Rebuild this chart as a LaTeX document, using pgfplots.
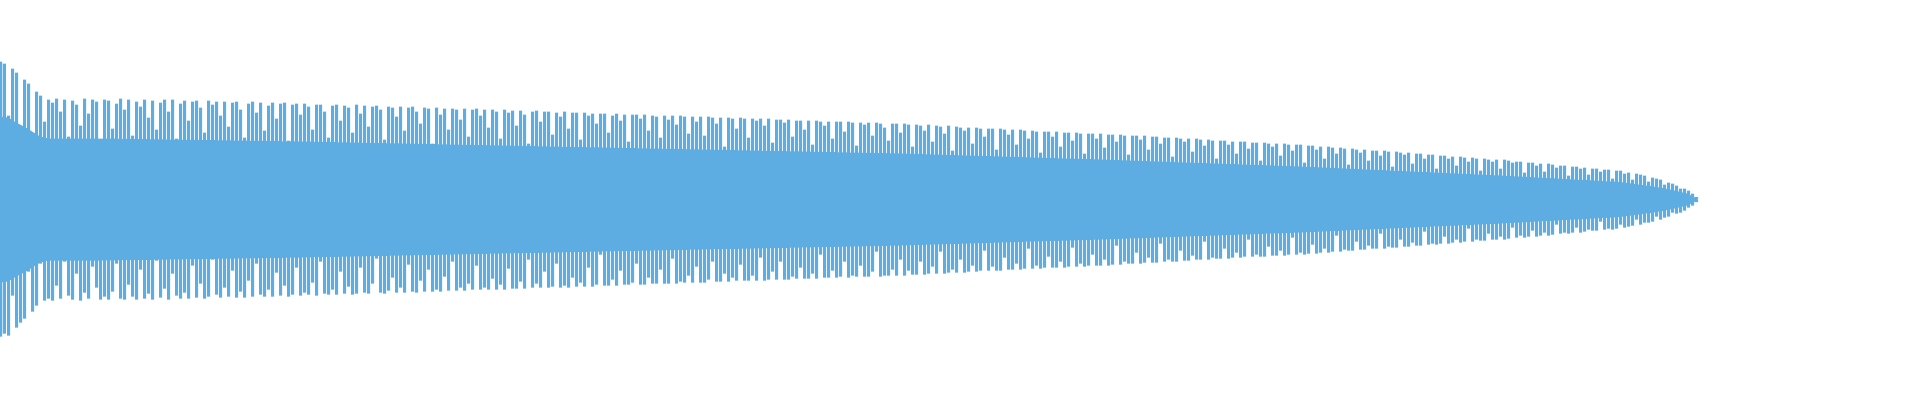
\documentclass[border=0pt]{standalone}
\usepackage{pgfplots}
\usepackage{pgfplotstable}
\pgfplotsset{compat=1.18}
\definecolor{wave}{RGB}{93,173,226}
\pgfplotstableread{
t b
138 -137
136 -134
84 -136
131 -96
127 -128
70 -123
120 -119
116 -72
66 -112
108 -106
104 -64
78 -101
100 -99
97 -101
101 -86
88 -99
100 -62
63 -96
99 -100
95 -74
74 -101
101 -93
86 -99
100 -67
98 -88
60 -100
100 -97
99 -100
71 -92
96 -64
101 -99
90 -100
100 -85
64 -97
98 -100
93 -70
100 -99
82 -94
99 -100
70 -61
97 -98
100 -89
88 -100
100 -74
61 -96
96 -99
99 -93
79 -99
98 -66
99 -98
92 -84
67 -99
99 -97
95 -60
98 -95
84 -98
98 -88
73 -97
97 -71
98 -98
90 -92
62 -98
96 -81
98 -97
87 -64
97 -95
69 -97
94 -90
97 -97
81 -73
96 -96
97 -86
59 -97
95 -95
96 -68
85 -96
96 -93
93 -95
70 -83
95 -96
95 -62
88 -94
62 -95
94 -90
95 -95
79 -72
94 -94
92 -87
67 -95
95 -94
86 -68
94 -93
73 -94
93 -84
94 -59
90 -93
60 -94
93 -91
92 -78
83 -93
93 -88
69 -93
92 -65
93 -92
88 -93
76 -81
92 -92
91 -70
56 -92
92 -90
85 -92
91 -77
70 -91
91 -62
90 -91
80 -88
91 -91
63 -84
90 -90
91 -66
84 -90
90 -88
72 -90
90 -79
88 -90
61 -85
90 -90
87 -69
89 -89
74 -89
89 -82
85 -89
56 -60
88 -88
89 -84
78 -88
88 -72
88 -88
65 -87
87 -64
83 -88
88 -86
71 -88
87 -78
87 -87
60 -83
87 -87
84 -68
86 -87
76 -85
86 -55
86 -86
67 -86
84 -80
86 -86
79 -71
85 -85
58 -85
85 -83
85 -64
81 -85
85 -85
69 -78
84 -84
83 -84
62 -70
84 -84
80 -84
84 -59
75 -84
84 -82
83 -83
66 -76
83 -83
78 -67
83 -83
64 -83
83 -80
82 -62
76 -82
82 -82
53 -74
82 -82
81 -78
71 -81
82 -65
81 -81
62 -81
81 -76
79 -81
81 -58
74 -81
81 -80
57 -72
80 -80
80 -62
77 -80
80 -80
63 -77
79 -79
79 -68
70 -79
79 -79
55 -74
79 -79
78 -55
74 -78
78 -78
61 -71
78 -78
78 -77
68 -62
78 -78
77 -76
54 -77
77 -66
75 -77
77 -77
64 -72
77 -52
76 -77
72 -76
59 -76
76 -70
76 -76
67 -60
76 -76
75 -71
53 -75
75 -75
74 -62
69 -75
75 -74
58 -67
74 -74
73 -52
66 -74
74 -73
49 -70
73 -73
72 -60
69 -73
72 -72
56 -66
72 -72
71 -71
63 -51
71 -71
71 -67
50 -71
71 -71
70 -58
65 -70
70 -70
55 -64
70 -70
69 -69
61 -49
69 -69
68 -66
47 -69
68 -68
68 -57
63 -68
68 -68
53 -62
67 -68
67 -67
59 -48
67 -67
66 -64
46 -67
66 -66
66 -55
61 -66
66 -66
52 -60
65 -66
65 -65
58 -46
65 -65
64 -62
45 -64
64 -64
64 -53
60 -64
64 -63
50 -58
63 -63
63 -63
56 -44
62 -62
62 -60
43 -62
62 -62
61 -51
58 -61
61 -61
48 -56
61 -60
60 -60
54 -42
60 -60
59 -58
41 -59
59 -59
59 -49
55 -59
58 -58
46 -53
58 -58
58 -57
51 -40
57 -57
57 -55
39 -57
57 -57
56 -47
53 -56
56 -56
44 -51
56 -56
55 -55
49 -38
55 -55
55 -53
37 -55
54 -54
54 -45
50 -54
53 -53
41 -49
53 -53
52 -52
46 -36
52 -52
51 -50
35 -51
51 -51
50 -42
47 -50
50 -50
39 -46
49 -49
49 -49
44 -34
49 -49
48 -47
33 -48
48 -48
47 -40
45 -47
47 -47
36 -43
46 -46
46 -46
41 -32
45 -45
45 -44
31 -45
44 -44
44 -37
41 -44
43 -43
34 -40
43 -43
42 -42
38 -29
42 -42
41 -40
29 -41
41 -41
40 -34
38 -40
40 -40
31 -37
40 -40
39 -39
37 -28
38 -38
38 -36
27 -38
37 -37
37 -31
34 -37
36 -36
28 -33
36 -36
35 -35
32 -25
34 -34
34 -33
24 -34
33 -33
33 -28
31 -33
32 -32
25 -30
31 -31
31 -31
28 -22
30 -30
30 -29
21 -30
29 -29
29 -25
26 -28
27 -27
20 -26
26 -20
25 -25
24 -23
18 -23
22 -22
21 -17
20 -20
15 -18
17 -17
16 -13
14 -14
11 -13
11 -11
9 -8
6 -6
2.5 -2.5
}\wavetable
\begin{document}
\begin{tikzpicture}
\useasboundingbox (0,0) rectangle (19.2cm,4cm);
\begin{axis}[
  at={(0,0)}, anchor=south west,
  hide axis, scale only axis,
  width=19.2cm, height=4cm,
  xmin=0, xmax=1920, ymin=-200.5, ymax=199.5,
  clip=true,
]
\addplot[fill=wave, draw=none] coordinates {
(0,83) (8,82) (16,77) (24,73) (32,68) (40,63) (48,61) (100,61) (300,58) (500,54) (700,50) (900,46) (1100,40) (1300,33) (1500,24) (1620,17.5) (1653,13) (1670,10) (1687,6) (1693,3) (1697,1)
(1697,-1) (1693,-3) (1687,-6) (1670,-10) (1653,-13) (1620,-17.5) (1500,-24) (1300,-33) (1100,-40) (900,-46) (700,-50) (500,-54) (300,-58) (100,-61) (48,-61) (40,-63) (32,-68) (24,-73) (16,-77) (8,-82) (0,-83)
} -- cycle;
\addplot[ybar, bar width=3, bar shift=0pt, fill=wave, draw=none] table[x expr=\coordindex*4+0.5, y=t] {\wavetable};
\addplot[ybar, bar width=3, bar shift=0pt, fill=wave, draw=none] table[x expr=\coordindex*4+0.5, y=b] {\wavetable};
\end{axis}
\end{tikzpicture}
\end{document}
